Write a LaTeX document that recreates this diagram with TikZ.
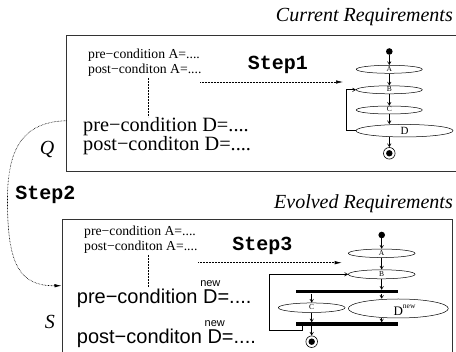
\documentclass[tikz,border=0pt]{standalone}
\usepackage{fontspec}
\setmainfont{Liberation Serif}
\newfontfamily\hvfont{Liberation Sans}
\newfontfamily\courfont{Liberation Mono}
\usetikzlibrary{arrows.meta,shapes.geometric}
\newcommand\myfs[1]{\fontsize{#1}{#1}\selectfont}
\begin{document}
\begin{tikzpicture}[x=1pt,y=-1pt,
  box/.style={line width=1pt, draw=black!80},
  st/.style={ellipse, draw, line width=0.5pt, inner sep=0pt, text height=4pt, text depth=0pt, font=\myfs{7.5}},
  flow/.style={-{Straight Barb[length=3pt,width=3.5pt]}, line width=0.6pt},
  dots/.style={line width=0.6pt, dash pattern=on 0.6pt off 0.9pt},
  steparrow/.style={dots, -{Latex[length=7pt,width=3.5pt]}},
  bar/.style={fill=black, draw=none, inner sep=0pt, minimum width=102.3pt, minimum height=3.5pt},
  startdot/.style={circle, fill=black, inner sep=0pt, minimum size=6.6pt},
  endring/.style={circle, draw, line width=0.6pt, inner sep=0pt, minimum size=11.6pt},
  enddot/.style={circle, fill=black, inner sep=0pt, minimum size=6.4pt},
  small/.style={font=\myfs{13.7}, inner sep=0pt},
  big/.style={font=\myfs{20.3}, inner sep=0pt},
  sbig/.style={font=\hvfont\myfs{20}, inner sep=0pt},
  mono/.style={font=\courfont\bfseries\myfs{20}, inner sep=0pt},
  ital/.style={font=\itshape\myfs{20}, inner sep=0pt},
]
\useasboundingbox (0,0) rectangle (456,352);

% ---------- top box ----------
\draw[box] (456,36) -- (66.5,36) -- (66.5,172) -- (456,172);
\node[ital, anchor=base east] (cur) at (453,21.7) {Current Requirements};
\node[small, anchor=base west] (preA1) at (88,58.3) {pre−condition A=....};
\node[small, anchor=base west] (postA1) at (88,73.3) {post−conditon A=....};
\node[mono] (step1) at (278,65) {Step1};
\node[big, anchor=base west] (preD1) at (83,131.7) {pre−condition D=....};
\node[big, anchor=base west] (postD1) at (83,151) {post−conditon D=....};
\node[ital] (Q) at (47,150) {Q};
\coordinate (v1a) at (148,78);
\coordinate (v1b) at (148,117);
\draw[dots] (v1a) -- (v1b);
\coordinate (s1a) at (200,82);
\coordinate (s1b) at (343,82);
\draw[steparrow] (s1a) -- (s1b);

% top activity diagram
\node[startdot] (start1) at (389.3,51.5) {};
\node[st, minimum width=66pt, minimum height=8pt] (A1) at (389.3,69.3) {A};
\node[st, minimum width=66pt, minimum height=8pt] (B1) at (389.3,89.8) {B};
\node[st, minimum width=66pt, minimum height=8pt] (C1) at (389.3,110) {C};
\node[st, minimum width=97pt, minimum height=12.5pt, text height=7pt, font=\myfs{11}] (D1) at (404.5,130.7) {D};
\node[endring] (end1) at (389.3,153.3) {};
\node[enddot] (end1in) at (end1) {};
\draw[flow] (start1) -- (A1);
\draw[flow] (A1) -- (B1);
\draw[flow] (B1) -- (C1);
\draw[flow] (C1.south) -- (C1.south |- D1.north);
\draw[flow] (D1.south -| end1) -- (end1);
\draw[flow] (D1.west) -- ++(-9,0) |- (B1.west);

% ---------- step 2 ----------
\node[mono] (step2) at (45.5,195) {Step2};
\coordinate (q1) at (66.5,120.7);
\coordinate (s1) at (61.5,285.7);
\draw[steparrow] (q1) .. controls (15,122) and (7,160) .. (7.5,205) .. controls (8,265) and (20,286) .. (s1);

% ---------- bottom box ----------
\draw[box] (62,352) -- (62,219.5) -- (452.5,219.5) -- (452.5,352);
\node[ital, anchor=base east] (evo) at (453,208.3) {Evolved Requirements};
\node[small, anchor=base west] (preA2) at (84,236) {pre−condition A=....};
\node[small, anchor=base west] (postA2) at (84,250.5) {post−conditon A=....};
\node[mono] (step3) at (262.5,245.7) {Step3};
\node[sbig, anchor=base west] (preD2) at (76.7,303.3) {pre−condition D\llap{\makebox[14.4pt][c]{\raisebox{17pt}{\myfs{11}new}}}=....};
\node[sbig, anchor=base west] (postD2) at (76.7,343.3) {post−conditon D\llap{\makebox[14.4pt][c]{\raisebox{17pt}{\myfs{11}new}}}=....};
\node[ital] (S) at (50,321.7) {S};
\coordinate (v2a) at (148.3,255);
\coordinate (v2b) at (148.3,286.7);
\draw[dots] (v2a) -- (v2b);
\coordinate (s3a) at (198.3,262.7);
\coordinate (s3b) at (341.7,262.7);
\draw[steparrow] (s3a) -- (s3b);

% bottom activity diagram
\node[startdot] (start2) at (381.7,235) {};
\node[st, minimum width=66.7pt, minimum height=8.5pt] (A2) at (381.7,253.3) {A};
\node[st, minimum width=66.7pt, minimum height=9pt] (B2) at (381.7,274.3) {B};
\node[bar] (fork) at (347.15,291.75) {};
\node[st, minimum width=66.7pt, minimum height=9.5pt] (C2) at (311.7,307.7) {C};
\node[st, minimum width=100pt, minimum height=19pt, text height=9pt, font=\myfs{13}] (D2) at (398.3,308.5) {\raisebox{-3pt}{D\rlap{\raisebox{7pt}{\myfs{7.5}new}}}};
\node[bar] (join) at (347.15,324.25) {};
\node[endring] (end2) at (311.7,341.7) {};
\node[enddot] (end2in) at (end2) {};
\draw[flow] (start2) -- (A2);
\draw[flow] (A2) -- (B2);
\draw[flow] (B2) -- (B2 |- fork.north);
\draw[flow] (fork.south -| C2) -- (C2);
\coordinate (fd) at (fork.south -| B2);
\draw[flow] (fd) -- (fd |- D2.north);
\draw[flow] (C2) -- (C2 |- join.north);
\coordinate (dj) at (D2.south -| B2);
\draw[flow] (dj) -- (dj |- join.north);
\draw[flow] (join.south -| C2) -- (end2);
\coordinate (lp) at ([xshift=6pt]join.south west);
\draw[flow] (lp) -- ++(0,4.5) -- ++(-32.7,0) |- (B2.west);
\end{tikzpicture}
\end{document}
